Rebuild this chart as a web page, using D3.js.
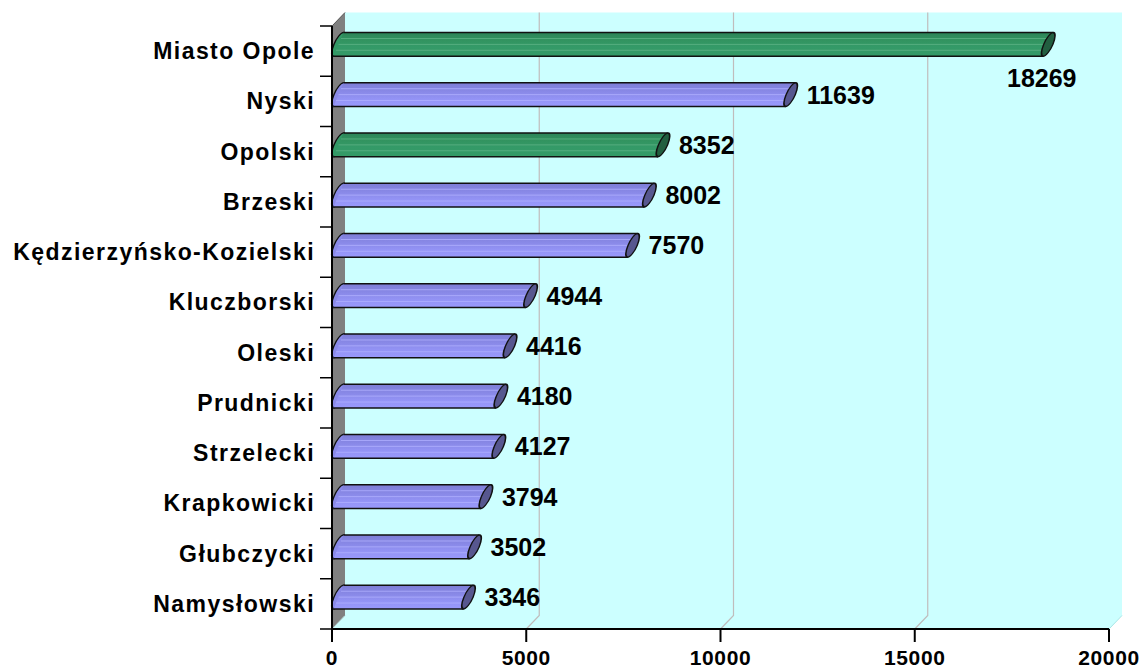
<!DOCTYPE html>
<html>
<head>
<meta charset="utf-8">
<script src="https://cdn.jsdelivr.net/npm/d3@7"></script>
<style>
  body { margin: 0; background: #fff; }
  svg { display: block; font-family: Arial, "Liberation Sans", sans-serif; font-weight: bold; }
</style>
</head>
<body>
<svg id="chart" width="1148" height="671"></svg>
<script>
const categories = [
  "Miasto Opole", "Nyski", "Opolski", "Brzeski", "Kędzierzyńsko-Kozielski",
  "Kluczborski", "Oleski", "Prudnicki", "Strzelecki", "Krapkowicki",
  "Głubczycki", "Namysłowski"
];
const values = [18269, 11639, 8352, 8002, 7570, 4944, 4416, 4180, 4127, 3794, 3502, 3346];
const highlighted = ["Miasto Opole", "Opolski"];
const xTicks = [0, 5000, 10000, 15000, 20000];

const data = categories.map((c, i) => ({ name: c, value: values[i] }));

const svg = d3.select("#chart");

// front face of the plot, and the 3D depth offset of the back wall
const plotLeft = 332, plotRight = 1109, plotTop = 26, plotBottom = 629;
const depthX = 13, depthY = 13.5;

const x = d3.scaleLinear().domain([0, 20000]).range([plotLeft, plotRight]);
const y = d3.scaleBand().domain(categories).range([plotTop, plotBottom]).padding(0);

const defs = svg.append("defs");

function addGradient(id, stops) {
  const g = defs.append("linearGradient")
    .attr("id", id)
    .attr("x1", 0).attr("y1", 0).attr("x2", 0).attr("y2", 1);
  g.selectAll("stop").data(stops).join("stop")
    .attr("offset", d => d[0])
    .attr("stop-color", d => d[1]);
}
addGradient("gradGreen", [[0, "#2c8458"], [0.3, "#32935f"], [0.6, "#349a68"], [1, "#349966"]]);
addGradient("gradBlue", [[0, "#7d7dd6"], [0.35, "#8888e6"], [0.7, "#9494f6"], [1, "#9999fc"]]);

const palette = {
  green: { body: "url(#gradGreen)", stripe: "#5fb387", cap: "#225e40", end: "#339966" },
  blue: { body: "url(#gradBlue)", stripe: "#b0b0ff", cap: "#57578f", end: "#8a8ae8" }
};

// back wall + floor
svg.append("path")
  .attr("d", `M${plotLeft + depthX},${plotTop - depthY} L${plotRight + depthX},${plotTop - depthY}
    L${plotRight + depthX},${plotBottom - depthY} L${plotRight},${plotBottom} L${plotLeft},${plotBottom} Z`)
  .attr("fill", "#ccffff");

svg.append("line")
  .attr("x1", plotRight + depthX).attr("y1", plotBottom - depthY)
  .attr("x2", plotRight).attr("y2", plotBottom)
  .attr("stroke", "#a8e6e6").attr("stroke-width", 1);

// side wall
svg.append("path")
  .attr("d", `M${plotLeft},${plotTop} L${plotLeft + depthX},${plotTop - depthY} L${plotLeft + depthX},${plotBottom - depthY} L${plotLeft},${plotBottom} Z`)
  .attr("fill", "#808080");
svg.append("line")
  .attr("x1", plotLeft).attr("y1", plotBottom)
  .attr("x2", plotLeft + depthX).attr("y2", plotBottom - depthY)
  .attr("stroke", "#b8d8d8").attr("stroke-width", 1);

// gridlines on back wall and floor
const grid = svg.append("g")
  .attr("fill", "none")
  .attr("stroke", "#c0bcbc")
  .attr("stroke-width", 1.2);
xTicks.filter(t => t > 0 && t < 20000).forEach(t => {
  grid.append("path")
    .attr("d", `M${x(t) + depthX},${plotTop - depthY} L${x(t) + depthX},${plotBottom - depthY} L${x(t)},${plotBottom}`);
});

// bars (cylinders)
const shear = 0.42;
const skewDeg = -Math.atan(shear) * 180 / Math.PI;
const barH = y.bandwidth() * 0.47;

svg.append("g")
  .selectAll("g")
  .data(data)
  .join("g")
  .each(function(d) {
    const g = d3.select(this);
    const col = highlighted.includes(d.name) ? palette.green : palette.blue;
    const cy = y(d.name) + y.bandwidth() / 2 - depthY / 2;
    const x0 = x(0) + depthX / 2;
    const x1 = x(d.value) + depthX / 2;
    const ry = barH / 2;
    const off = shear * ry;

    // left end
    g.append("ellipse")
      .attr("transform", `translate(${x0},${cy}) skewX(${skewDeg})`)
      .attr("rx", 4.6).attr("ry", ry)
      .attr("fill", col.end)
      .attr("stroke", "#111").attr("stroke-width", 1.5);

    // body
    g.append("path")
      .attr("d", `M${x0 + off},${cy - ry} L${x1 + off},${cy - ry} L${x1 - off},${cy + ry} L${x0 - off},${cy + ry} Z`)
      .attr("fill", col.body);

    [-0.5, 0, 0.5].forEach(f => {
      const yy = cy + f * ry;
      g.append("line")
        .attr("x1", x0 - shear * (yy - cy)).attr("x2", x1 - shear * (yy - cy))
        .attr("y1", yy).attr("y2", yy)
        .attr("stroke", col.stripe).attr("stroke-width", 1).attr("opacity", 0.8);
    });

    g.append("line")
      .attr("x1", x0 + off).attr("x2", x1 + off)
      .attr("y1", cy - ry).attr("y2", cy - ry)
      .attr("stroke", "#111").attr("stroke-width", 1.5);
    g.append("line")
      .attr("x1", x0 - off).attr("x2", x1 - off)
      .attr("y1", cy + ry).attr("y2", cy + ry)
      .attr("stroke", "#111").attr("stroke-width", 1.5);

    // right cap
    g.append("ellipse")
      .attr("transform", `translate(${x1},${cy}) skewX(${skewDeg})`)
      .attr("rx", 4.6).attr("ry", ry)
      .attr("fill", col.cap)
      .attr("stroke", "#111").attr("stroke-width", 1.5);

    // value label, moved under the bar when it would run past the wall
    const labelW = String(d.value).length * 13.9;
    const fits = x1 + 16 + labelW <= plotRight + depthX;
    g.append("text")
      .attr("x", fits ? x1 + 16 : x(d.value))
      .attr("y", fits ? cy + 9 : cy + ry + 31)
      .attr("text-anchor", fits ? "start" : "middle")
      .attr("font-size", 25)
      .attr("fill", "#000")
      .text(d.value);
  });

// y axis
const yAxis = svg.append("g");
yAxis.append("line")
  .attr("x1", plotLeft).attr("x2", plotLeft)
  .attr("y1", plotTop).attr("y2", plotBottom)
  .attr("stroke", "#000").attr("stroke-width", 2);
yAxis.selectAll("line.tick")
  .data(categories.map(c => y(c)).concat([plotBottom]))
  .join("line")
  .attr("class", "tick")
  .attr("x1", plotLeft - 12).attr("x2", plotLeft)
  .attr("y1", d => d).attr("y2", d => d)
  .attr("stroke", "#000").attr("stroke-width", 1.5);
yAxis.append("line")
  .attr("x1", plotLeft).attr("y1", plotTop)
  .attr("x2", plotLeft + depthX).attr("y2", plotTop - depthY)
  .attr("stroke", "#555").attr("stroke-width", 1);
yAxis.selectAll("text")
  .data(categories)
  .join("text")
  .attr("x", plotLeft - 17)
  .attr("y", d => y(d) + y.bandwidth() / 2 + 8)
  .attr("text-anchor", "end")
  .attr("font-size", 23)
  .attr("letter-spacing", 1.45)
  .attr("fill", "#000")
  .text(d => d);

// x axis
const xAxis = svg.append("g");
xAxis.append("line")
  .attr("x1", plotLeft).attr("x2", plotRight)
  .attr("y1", plotBottom).attr("y2", plotBottom)
  .attr("stroke", "#000").attr("stroke-width", 2);
xAxis.selectAll("line.tick")
  .data(xTicks)
  .join("line")
  .attr("class", "tick")
  .attr("x1", d => x(d)).attr("x2", d => x(d))
  .attr("y1", plotBottom).attr("y2", plotBottom + 13)
  .attr("stroke", "#000").attr("stroke-width", 2);
xAxis.selectAll("text")
  .data(xTicks)
  .join("text")
  .attr("x", d => x(d))
  .attr("y", 665)
  .attr("text-anchor", "middle")
  .attr("font-size", 21)
  .attr("letter-spacing", 0.6)
  .attr("fill", "#000")
  .text(d => d);
</script>
</body>
</html>
